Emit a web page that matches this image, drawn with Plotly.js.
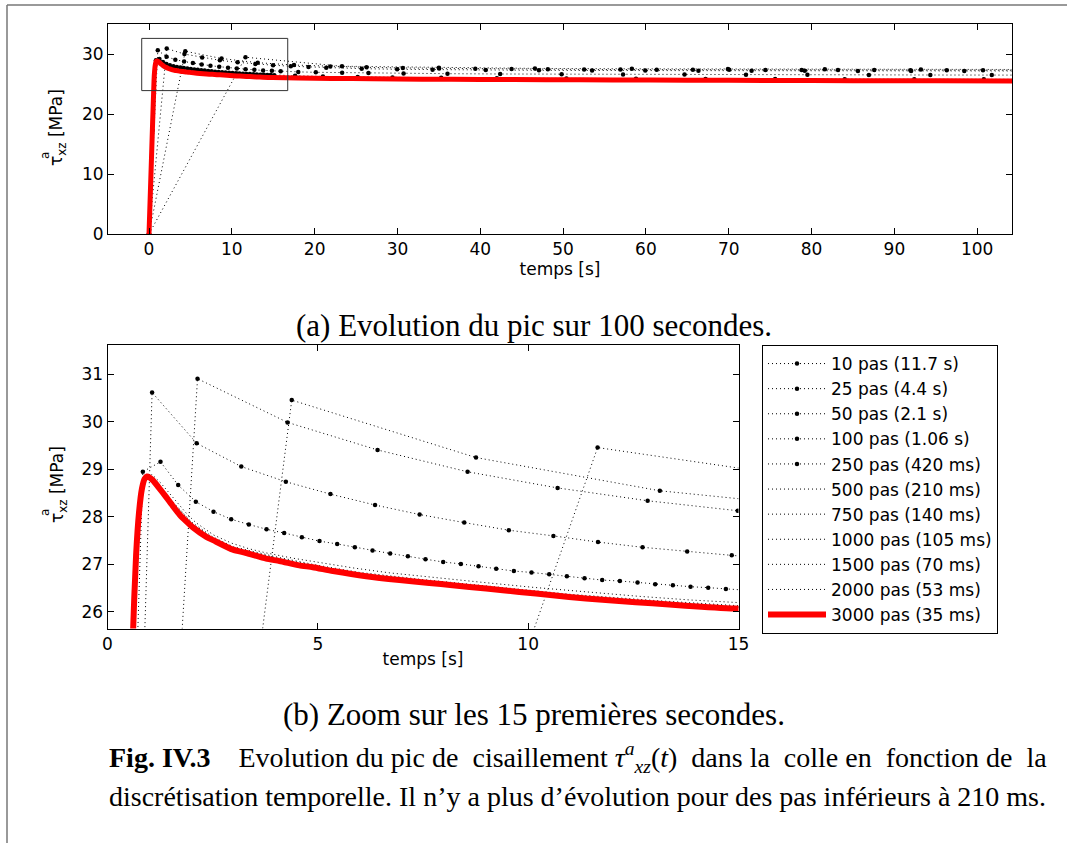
<!DOCTYPE html>
<html>
<head>
<meta charset="utf-8">
<script src="https://cdn.plot.ly/plotly-3.0.1.min.js"></script>
<style>
html,body{margin:0;padding:0;background:#fff;}
#chart{width:1067px;height:843px;}
</style>
</head>
<body>
<div id="chart"></div>
<script>
// ---------- DATA ----------
const seriesNames = ['10 pas (11.7 s)','25 pas (4.4 s)','50 pas (2.1 s)','100 pas (1.06 s)','250 pas (420 ms)',
  '500 pas (210 ms)','750 pas (140 ms)','1000 pas (105 ms)','1500 pas (70 ms)','2000 pas (53 ms)','3000 pas (35 ms)'];

const t10 = [0, 11.65, 23.3, 35.0, 46.6, 58.3, 69.9, 81.6, 93.2, 104.9, 116.5];
const v10 = [0, 29.46, 27.96, 27.72, 27.6, 27.53, 27.48, 27.45, 27.42, 27.4, 27.39];

const t25 = [0, 4.38, 8.76, 13.13, 17.51, 21.89, 26.27, 30.65, 35.03, 39.4, 43.78, 48.16, 52.54, 56.92, 61.3,
  65.67, 70.05, 74.43, 78.81, 83.19, 87.57, 91.94, 96.32, 100.7, 105.08, 109.46];
const v25 = [0, 30.46, 29.25, 28.55, 28.16, 27.93, 27.78, 27.67, 27.6, 27.54, 27.5, 27.46, 27.43, 27.41, 27.39,
  27.37, 27.36, 27.35, 27.34, 27.33, 27.32, 27.31, 27.31, 27.3, 27.3, 27.3];

const t50 = [0, 2.14, 4.28, 6.42, 8.56, 10.7, 12.84, 14.98, 17.12, 19.26, 21.4, 25.68, 29.96, 34.24, 40.66,
  47.08, 53.5, 59.92, 66.34, 72.76, 79.18, 85.6, 92.02, 98.44, 104.86];
const v50 = [0, 30.91, 29.99, 29.41, 28.95, 28.61, 28.34, 28.13, 27.96, 27.83, 27.72, 27.56, 27.45, 27.38, 27.32,
  27.28, 27.25, 27.23, 27.21, 27.2, 27.19, 27.18, 27.18, 27.17, 27.17];

const t100 = [0, 1.06, 2.12, 3.18, 4.24, 5.3, 6.36, 7.42, 8.48, 9.54, 10.6, 11.66, 12.72, 13.78, 14.84, 15.9,
  18.02, 20.14, 23.32, 26.5, 30.74, 36.04, 42.4, 49.82, 57.24, 64.66, 72.08, 79.5, 86.92, 94.34, 101.76, 106];
const v100 = [0, 30.62, 29.55, 29.06, 28.74, 28.48, 28.25, 28.05, 27.88, 27.72, 27.6, 27.47, 27.36, 27.27, 27.19, 27.12,
  27.02, 26.95, 26.88, 26.83, 26.77, 26.72, 26.67, 26.63, 26.6, 26.57, 26.55, 26.53, 26.51, 26.5, 26.49, 26.48];

const t250 = [0, 0.42, 0.84, 1.26, 1.68, 2.1, 2.52, 2.94, 3.36, 3.78, 4.2, 4.62, 5.04, 5.46, 5.88, 6.3, 6.72, 7.14,
  7.56, 7.98, 8.4, 8.82, 9.24, 9.66, 10.08, 10.5, 10.92, 11.34, 11.76, 12.18, 12.6, 13.02, 13.44, 13.86, 14.28, 14.7,
  15.12, 17.64, 21.0, 25.2, 29.4, 35.28, 42.0, 50.4, 58.8, 67.2, 75.6, 84.0, 92.4, 100.8, 105.0];
const v250 = [0, 17.2, 28.95, 29.16, 28.67, 28.32, 28.11, 27.95, 27.84, 27.74, 27.66, 27.57, 27.49, 27.43, 27.36, 27.29,
  27.23, 27.17, 27.11, 27.05, 27.01, 26.96, 26.91, 26.86, 26.83, 26.79, 26.75, 26.71, 26.67, 26.65, 26.62, 26.58,
  26.56, 26.53, 26.51, 26.48, 26.46, 26.36, 26.26, 26.17, 26.1, 26.03, 25.97, 25.92, 25.88, 25.85, 25.83, 25.81,
  25.79, 25.78, 25.77];

const t500 = [0, 0.21, 0.42, 0.63, 0.84, 1.05, 1.26, 1.47, 1.68, 1.89, 2.1, 2.52, 2.94, 3.36, 3.78, 4.41, 5.04, 5.88,
  6.72, 7.77, 8.82, 10.08, 11.34, 12.6, 13.86, 15.12, 18.9, 23.1, 29.4, 37.8, 48.3, 58.8, 69.3, 79.8, 90.3, 100.8, 105];
const v500 = [0, 8.6, 17.3, 25.9, 28.72, 28.9, 28.72, 28.5, 28.28, 28.06, 27.88, 27.62, 27.45, 27.33, 27.24, 27.13,
  27.04, 26.92, 26.82, 26.72, 26.63, 26.52, 26.42, 26.33, 26.25, 26.19, 26.08, 25.99, 25.9, 25.82, 25.75, 25.7,
  25.66, 25.63, 25.61, 25.59, 25.58];

const tFine = [0, 0.6, 0.75, 0.88, 1.0, 1.2, 1.5, 2.0, 2.5, 3.0, 4.0, 5.0, 6.0, 7.5, 9.0, 11.0, 13.0, 15.0, 20, 30, 45, 60, 80, 105];
const v750 = [0, 25.3, 28.12, 28.86, 28.88, 28.67, 28.37, 27.89, 27.58, 27.37, 27.16, 26.98, 26.83, 26.68, 26.55,
  26.37, 26.24, 26.13, 26.02, 25.9, 25.79, 25.71, 25.63, 25.57];
const v1000 = [0, 25.3, 28.12, 28.85, 28.86, 28.65, 28.35, 27.87, 27.56, 27.35, 27.14, 26.96, 26.81, 26.66, 26.53,
  26.35, 26.22, 26.11, 26.0, 25.88, 25.77, 25.69, 25.61, 25.55];
const v1500 = [0, 25.3, 28.11, 28.83, 28.84, 28.62, 28.32, 27.84, 27.54, 27.33, 27.12, 26.94, 26.79, 26.64, 26.51,
  26.33, 26.2, 26.09, 25.98, 25.86, 25.75, 25.67, 25.59, 25.53];
const v2000 = [0, 25.3, 28.1, 28.82, 28.83, 28.61, 28.31, 27.83, 27.53, 27.32, 27.11, 26.93, 26.78, 26.63, 26.5,
  26.32, 26.19, 26.08, 25.97, 25.85, 25.74, 25.66, 25.58, 25.52];

const t3000 = [0, 0.3, 0.61, 0.68, 0.75, 0.82, 0.88, 0.94, 1.0, 1.08, 1.2, 1.4, 1.56, 1.72, 1.88, 2.03, 2.35, 2.51,
  2.98, 3.3, 3.77, 4.09, 4.56, 4.88, 5.36, 6.15, 6.94, 7.65, 8.2, 9.0, 9.79, 10.58, 11.37, 12.16, 12.95, 13.74, 14.93,
  18, 22, 27, 33, 40, 48, 56, 65, 75, 85, 95, 105];
const v3000 = [0, 12.6, 25.65, 27.2, 28.1, 28.6, 28.8, 28.85, 28.83, 28.77, 28.64, 28.41, 28.22, 28.04, 27.9, 27.78,
  27.58, 27.51, 27.31, 27.24, 27.12, 27.07, 26.98, 26.94, 26.86, 26.75, 26.67, 26.61, 26.56, 26.49, 26.42, 26.35,
  26.28, 26.23, 26.18, 26.13, 26.07, 26.0, 25.93, 25.87, 25.81, 25.76, 25.71, 25.67, 25.63, 25.59, 25.56, 25.53, 25.51];

const seriesT = [t10, t25, t50, t100, t250, t500, tFine, tFine, tFine, tFine, t3000];
const seriesV = [v10, v25, v50, v100, v250, v500, v750, v1000, v1500, v2000, v3000];
const seriesMarked = [true, true, true, true, true, false, false, false, false, false, false];

const topXTicks = [0, 10, 20, 30, 40, 50, 60, 70, 80, 90, 100];
const topYTicks = [0, 10, 20, 30];
const zoomXTicks = [0, 5, 10, 15];
const zoomYTicks = [26, 27, 28, 29, 30, 31];

// ---------- LAYOUT HELPERS ----------
const W = 1067, H = 843;
const px = v => v / W;
const py = v => 1 - v / H;
const FONT = 'DejaVu Sans, Arial, sans-serif';
const SERIF = 'Liberation Serif, Times New Roman, serif';

const traces = [];
function makeTrace(i, top) {
  const red = i === seriesNames.length - 1;
  return {
    type: 'scatter',
    x: seriesT[i], y: seriesV[i],
    xaxis: top ? 'x' : 'x2', yaxis: top ? 'y' : 'y2',
    name: seriesNames[i],
    legendgroup: 'g' + i,
    showlegend: !top,
    mode: seriesMarked[i] ? 'lines+markers' : 'lines',
    line: red ? {color: '#ff0000', width: top ? 5 : 6, shape: 'spline', smoothing: 0.6}
              : {color: '#000', width: 1, dash: '1px,3px'},
    marker: {size: 4.5, color: '#000'},
    hoverinfo: 'skip'
  };
}
for (let i = 0; i < seriesNames.length; i++) traces.push(makeTrace(i, true));
for (let i = 0; i < seriesNames.length; i++) traces.push(makeTrace(i, false));

const axisCommon = {
  showline: true, linecolor: '#000', linewidth: 1, mirror: 'ticks',
  ticks: 'inside', ticklen: 6, tickcolor: '#000', tickwidth: 1,
  showgrid: false, zeroline: false,
  tickfont: {family: FONT, size: 17, color: '#000'}
};

function ann(x, y, text, font, extra) {
  return Object.assign({xref: 'paper', yref: 'paper', x: px(x), y: py(y), text: text, showarrow: false,
    xanchor: 'center', yanchor: 'middle', font: font}, extra || {});
}
const tickFont = {family: FONT, size: 17, color: '#000'};
const supFont = {family: FONT, size: 12, color: '#000'};
const capFont = {family: SERIF, size: 31, color: '#000'};
const figFont = {family: SERIF, size: 28, color: '#000'};
const NB = '&nbsp;';

const layout = {
  width: W, height: H,
  margin: {l: 0, r: 0, t: 0, b: 0},
  paper_bgcolor: '#fff', plot_bgcolor: '#fff',
  showlegend: true,
  xaxis: Object.assign({}, axisCommon, {
    domain: [px(108), px(1012)], range: [-4.95, 104.2], anchor: 'y',
    tickvals: topXTicks,
    title: {text: 'temps [s]', font: tickFont, standoff: 4}
  }),
  yaxis: Object.assign({}, axisCommon, {
    domain: [py(234), py(24)], range: [0, 35], anchor: 'x',
    tickvals: topYTicks
  }),
  xaxis2: Object.assign({}, axisCommon, {
    domain: [px(107.5), px(738.5)], range: [0, 15], anchor: 'y2',
    tickvals: zoomXTicks,
    title: {text: 'temps [s]', font: tickFont, standoff: 0}
  }),
  yaxis2: Object.assign({}, axisCommon, {
    domain: [py(628.5), py(345)], range: [25.65, 31.62], anchor: 'x2',
    tickvals: zoomYTicks
  }),
  legend: {
    x: px(762), y: py(345), xanchor: 'left', yanchor: 'top',
    bgcolor: '#fff', bordercolor: '#000', borderwidth: 1,
    font: tickFont,
    itemwidth: 58, tracegroupgap: 0, traceorder: 'normal'
  },
  shapes: [
    // zoom rectangle on the top plot
    {type: 'rect', xref: 'x', yref: 'y', x0: -0.88, x1: 16.75, y0: 23.9, y1: 32.6,
     line: {color: '#333', width: 1}, fillcolor: 'rgba(0,0,0,0)', layer: 'above'},
    // page frame
    {type: 'line', xref: 'paper', yref: 'paper', x0: px(7), x1: px(7), y0: 0, y1: py(5),
     line: {color: '#777', width: 1.5}},
    {type: 'line', xref: 'paper', yref: 'paper', x0: px(7), x1: 1, y0: py(5), y1: py(5),
     line: {color: '#777', width: 1.5}}
  ],
  annotations: [
    // y-axis titles (top plot)
    ann(58, 128, 'τ<sub>xz</sub> [MPa]', tickFont, {textangle: -90}),
    ann(45, 156, 'a', supFont, {textangle: -90}),
    // y-axis titles (zoom plot)
    ann(58, 485, 'τ<sub>xz</sub> [MPa]', tickFont, {textangle: -90}),
    ann(45, 513, 'a', supFont, {textangle: -90}),
    // sub-captions
    ann(534, 325, '(a) Evolution du pic sur 100 secondes.', capFont),
    ann(534, 714, '(b) Zoom sur les 15 premières secondes.', capFont),
    // figure caption
    ann(107, 757, '<b>Fig. IV.3</b>' + NB + NB + '  Evolution du pic de' + NB + ' cisaillement <i>τ</i><sup><i>a</i></sup><sub><i>xz</i></sub>(<i>t</i>)' + NB + ' dans la' + NB + ' colle en' + NB + ' fonction de' + NB + ' la',
        figFont, {xanchor: 'left'}),
    ann(107, 796, 'discrétisation temporelle. Il n’y a plus d’évolution pour des pas inférieurs à 210 ms.',
        figFont, {xanchor: 'left'})
  ]
};

Plotly.newPlot('chart', traces, layout, {displayModeBar: false, staticPlot: true});
</script>
</body>
</html>
